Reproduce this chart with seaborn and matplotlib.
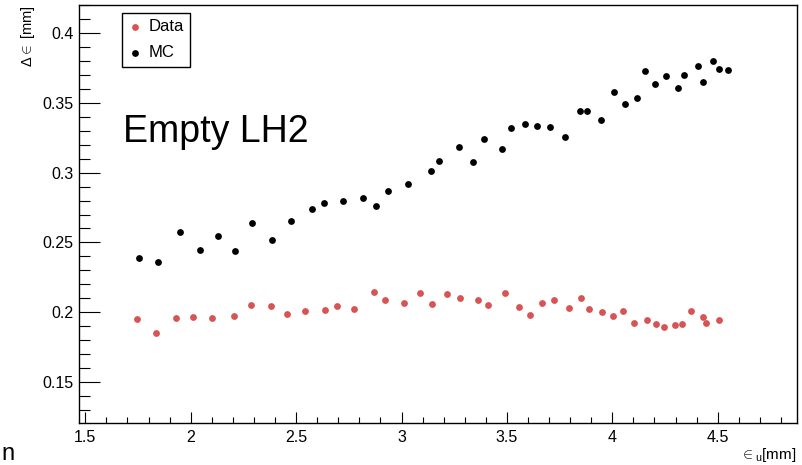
import numpy as np
import pandas as pd
import matplotlib
matplotlib.use("Agg")
import matplotlib.pyplot as plt
import seaborn as sns
from matplotlib.ticker import MultipleLocator, FixedLocator

# ---- data ----
mc_x = [1.753, 1.846, 1.948, 2.044, 2.130, 2.210, 2.292, 2.387, 2.476, 2.575,
        2.634, 2.723, 2.817, 2.878, 2.937, 3.031, 3.140, 3.177, 3.273, 3.338,
        3.391, 3.478, 3.519, 3.587, 3.644, 3.705, 3.776, 3.845, 3.879, 3.948,
        4.010, 4.060, 4.117, 4.155, 4.203, 4.253, 4.310, 4.340, 4.408, 4.429,
        4.476, 4.506, 4.549]
mc_y = [0.2385, 0.2361, 0.2576, 0.2445, 0.2543, 0.2436, 0.2639, 0.2515, 0.2655, 0.2737,
        0.2784, 0.2794, 0.2818, 0.2761, 0.2868, 0.2919, 0.3010, 0.3086, 0.3182, 0.3079,
        0.3239, 0.3170, 0.3323, 0.3347, 0.3335, 0.3325, 0.3258, 0.3442, 0.3445, 0.3380,
        0.3581, 0.3493, 0.3534, 0.3727, 0.3638, 0.3691, 0.3607, 0.3703, 0.3768, 0.3653,
        0.3801, 0.3746, 0.3737]
data_x = [1.744, 1.834, 1.930, 2.011, 2.101, 2.207, 2.287, 2.381, 2.457, 2.542,
          2.637, 2.693, 2.773, 2.870, 2.920, 3.014, 3.087, 3.146, 3.215, 3.278,
          3.363, 3.409, 3.490, 3.557, 3.611, 3.668, 3.722, 3.793, 3.852, 3.891,
          3.953, 4.002, 4.052, 4.104, 4.165, 4.209, 4.245, 4.299, 4.329, 4.373,
          4.432, 4.445, 4.505]
data_y = [0.1950, 0.1847, 0.1957, 0.1962, 0.1959, 0.1974, 0.2053, 0.2045, 0.1988, 0.2007,
          0.2017, 0.2041, 0.2020, 0.2146, 0.2088, 0.2063, 0.2139, 0.2058, 0.2129, 0.2098,
          0.2084, 0.2048, 0.2139, 0.2036, 0.1979, 0.2065, 0.2086, 0.2031, 0.2101, 0.2020,
          0.1998, 0.1974, 0.2009, 0.1919, 0.1945, 0.1916, 0.1895, 0.1905, 0.1916, 0.2005,
          0.1966, 0.1921, 0.1945]
series_names = ["Data", "MC"]
x_ticks = [1.5, 2, 2.5, 3, 3.5, 4, 4.5]
x_tick_labels = ["1.5", "2", "2.5", "3", "3.5", "4", "4.5"]
y_ticks = [0.15, 0.2, 0.25, 0.3, 0.35, 0.4]
y_tick_labels = ["0.15", "0.2", "0.25", "0.3", "0.35", "0.4"]

sns.set_style("ticks")
plt.rcParams["font.family"] = ["Liberation Sans", "DejaVu Sans"]
plt.rcParams["mathtext.fontset"] = "custom"
plt.rcParams["mathtext.rm"] = "Liberation Sans"
plt.rcParams["mathtext.it"] = "Liberation Sans:italic"
for k in ["text.color", "axes.labelcolor", "xtick.color", "ytick.color"]:
    plt.rcParams[k] = "black"

W, H = 802, 465
fig = plt.figure(figsize=(W / 100, H / 100), dpi=100)
L, R, T, B = 79, 797, 5.5, 423
ax = fig.add_axes([L / W, 1 - B / H, (R - L) / W, (B - T) / H])

red = "#d65454"
df_data = pd.DataFrame({"x": data_x, "y": data_y})
df_mc = pd.DataFrame({"x": mc_x, "y": mc_y})
sns.scatterplot(data=df_data, x="x", y="y", color=red, s=24, linewidth=0,
                label=series_names[0], legend=False, ax=ax, zorder=3)
sns.scatterplot(data=df_mc, x="x", y="y", color="black", s=24, linewidth=0,
                label=series_names[1], legend=False, ax=ax, zorder=3)

ax.set_xlim(1.470, 4.876)
ax.set_ylim(0.1204, 0.420)
ax.set_xlabel("")
ax.set_ylabel("")

ax.xaxis.set_major_locator(FixedLocator(x_ticks))
ax.set_xticklabels(x_tick_labels)
ax.xaxis.set_minor_locator(MultipleLocator(0.1))
ax.yaxis.set_major_locator(FixedLocator(y_ticks))
ax.set_yticklabels(y_tick_labels)
ax.yaxis.set_minor_locator(MultipleLocator(0.01))

for sp in ax.spines.values():
    sp.set_visible(True)
    sp.set_linewidth(1.0)
    sp.set_color("black")

ax.tick_params(axis="x", which="major", direction="in", length=8, width=0.8,
               labelsize=11.5, pad=5, top=False, colors="black")
ax.tick_params(axis="x", which="minor", direction="in", length=4, width=0.8, top=False)
ax.tick_params(axis="y", which="major", direction="in", length=15, width=0.8,
               labelsize=11.5, pad=4, right=False, colors="black")
ax.tick_params(axis="y", which="minor", direction="in", length=8, width=0.8, right=False)

# axis titles
fig.text(797 / W, 1 - 455 / H, r"$\in_{\rm u}$[mm]", ha="right", va="center", fontsize=11)
fig.text(28 / W, 1 - 5 / H, r"$\Delta\in$ [mm]", rotation=90, ha="center", va="top",
         fontsize=10.5)

# annotation
ax.text(1.677, 0.3222, "Empty LH2", fontsize=27, ha="left", va="baseline", color="black")

# cropped fragment at bottom left
fig.text(1 / W, 0.5 / H, "n", fontsize=17, ha="left", va="bottom")

leg = ax.legend(loc="upper left",
                bbox_to_anchor=((121.7 - L) / (R - L), (B - 12.7) / (B - T)),
                frameon=True, fancybox=False, shadow=False, borderaxespad=0,
                fontsize=12, borderpad=0.4, handlelength=0.8, handletextpad=0.4,
                labelspacing=0.65)
leg.get_frame().set_edgecolor("black")
leg.get_frame().set_linewidth(1.0)
leg.get_frame().set_alpha(1)

fig.savefig("out.png", dpi=100)
